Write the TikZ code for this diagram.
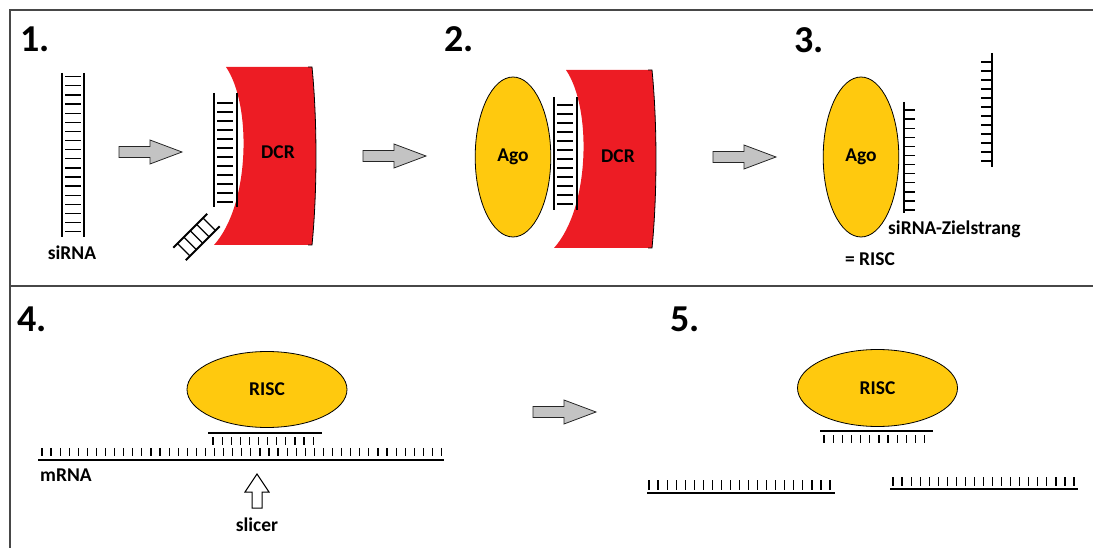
\documentclass[tikz,border=0pt]{standalone}
\usepackage{fontspec}
\setmainfont{Carlito}
\usetikzlibrary{shapes.geometric}
\definecolor{dcrred}{HTML}{ED1C24}
\definecolor{agoyellow}{HTML}{FFC90E}
\definecolor{arrowgray}{HTML}{C3C3C3}
\definecolor{framegray}{HTML}{474747}

\begin{document}
\begin{tikzpicture}[x=1pt,y=-1pt,
  rail/.style={line width=2pt},
  rung/.style={line width=1.3pt},
  strandline/.style={line width=2pt},
  tick/.style={line width=1.2pt},
  protein/.style={ellipse, draw=black, line width=0.8pt, fill=agoyellow,
    inner sep=0pt, font=\bfseries\fontsize{19.5}{22}\selectfont},
  dcrbody/.style={fill=dcrred},
  label/.style={font=\bfseries\fontsize{19.5}{22}\selectfont, inner sep=0pt},
  stepnum/.style={font=\bfseries\fontsize{38}{40}\selectfont, inner sep=0pt, anchor=base west},
  blockarrow/.style={draw=black!85, fill=arrowgray, line width=0.8pt, line join=miter},
  grayarrow/.pic={\path[blockarrow] (0,-5.5) -- (31,-5.5) -- (31,-12) -- (63,0)
      -- (31,12) -- (31,5.5) -- (0,5.5) -- cycle;},
  dicer/.pic={
    \path[dcrbody] (226,67) -- (312,67) .. controls (317.3,120) and (317.3,192) .. (312,245)
      -- (214,245) .. controls (250,205) and (252,105) .. (226,67) -- cycle;
    \draw[line width=0.8pt] (308,67) -- (312,67) .. controls (317.3,120) and (317.3,192) .. (312,245)
      -- (308,245);
  },
]
\useasboundingbox (0,0) rectangle (1093,548);

% panel frame
\draw[framegray, line width=1.6pt] (1093,10) -- (10,10) -- (10,548);
\draw[framegray, line width=1.6pt] (10,286) -- (1093,286);

% step numbers
\node[stepnum] (n1) at (20,52) {1.};
\node[stepnum] (n2) at (444,52) {2.};
\node[stepnum] (n3) at (794,53) {3.};
\node[stepnum] (n4) at (17,331) {4.};
\node[stepnum] (n5) at (670,331) {5.};

% ---------- step 1 ----------
% siRNA duplex
\draw[rail] (62,73) -- (62,237);
\draw[rail] (84,73) -- (84,237);
\foreach \i in {0,...,17}
  \draw[rung] (65,76.7+9.12*\i) -- (81,76.7+9.12*\i);
\node[label] (sirna) at (72,253) {siRNA};

\pic at (119,152) {grayarrow};

% Dicer with bound duplex
\pic at (0,0) {dicer};
\node[label] (dcr1) at (278,152) {DCR};
\draw[rail] (214,93) -- (214,207);
\draw[rail] (237,93) -- (237,207);
\foreach \i in {0,...,11}
  \draw[rung] (217,103+9*\i) -- (233,103+9*\i);

% cleaved-off piece
\begin{scope}[shift={(196.5,237)}, rotate=45]
  \draw[rail] (-24,-8.8) -- (24,-8.8);
  \draw[rail] (-24,8.8) -- (24,8.8);
  \foreach \s in {-18,-9,0,9,18}
    \draw[rung] (\s,-8.8) -- (\s,8.8);
\end{scope}

% ---------- step 2 ----------
\pic at (363,156) {grayarrow};
\node[protein, minimum width=75.6pt, minimum height=160pt] (ago2) at (513,157) {Ago};
\pic at (340,3) {dicer};
\node[label] (dcr2) at (618,156) {DCR};
\draw[rail] (554,97) -- (554,210);
\draw[rail] (577,97) -- (577,210);
\foreach \i in {0,...,11}
  \draw[rung] (557,105+9*\i) -- (573,105+9*\i);

% ---------- step 3 ----------
\pic at (713,157) {grayarrow};
\node[protein, minimum width=75.6pt, minimum height=160pt] (ago3) at (861,157) {Ago};
% guide strand kept in Ago
\draw[rail] (904,102) -- (904,213);
\foreach \i in {0,...,11}
  \draw[rung] (904,110+9.1*\i) -- (915,110+9.1*\i);
% released passenger strand
\draw[rail] (992,53) -- (992,167);
\foreach \i in {0,...,11}
  \draw[rung] (981,62+9*\i) -- (992,62+9*\i);
\node[label, anchor=west] (zielstrang) at (888,229) {siRNA-Zielstrang};
\node[label] (risc3) at (870,259) {= RISC};

% ---------- step 4 ----------
\node[protein, minimum width=160pt, minimum height=76pt] (risc4) at (267,389.5) {RISC};
\draw[strandline] (208,433) -- (322,433);
\foreach \i in {0,...,11}
  \draw[tick] (213+9.1*\i,437) -- (213+9.1*\i,445);
\draw[strandline] (38,459.5) -- (444,459.5);
\foreach \i in {0,...,44}
  \draw[tick] (42+9.08*\i,448) -- (42+9.08*\i,456);
\node[label, anchor=west] (mrna) at (40,475) {mRNA};
\path[draw=black, fill=white, line width=1pt, line join=miter]
  (257,474) -- (269,492) -- (262,492) -- (262,508) -- (252,508) -- (252,492) -- (245,492) -- cycle;
\node[label] (slicer) at (257,525) {slicer};

% ---------- step 5 ----------
\pic at (533,412) {grayarrow};
\node[protein, minimum width=160pt, minimum height=77pt] (risc5) at (877.5,388) {RISC};
\draw[strandline] (820,431) -- (933,431);
\foreach \i in {0,...,11}
  \draw[tick] (824+9.15*\i,435) -- (824+9.15*\i,443);
% cleaved mRNA fragments
\draw[strandline] (647,493) -- (835,493);
\foreach \i in {0,...,20}
  \draw[tick] (649+9.05*\i,480) -- (649+9.05*\i,490);
\draw[strandline] (890,489) -- (1078,489);
\foreach \i in {0,...,20}
  \draw[tick] (893+9.05*\i,477) -- (893+9.05*\i,486);
\end{tikzpicture}
\end{document}
